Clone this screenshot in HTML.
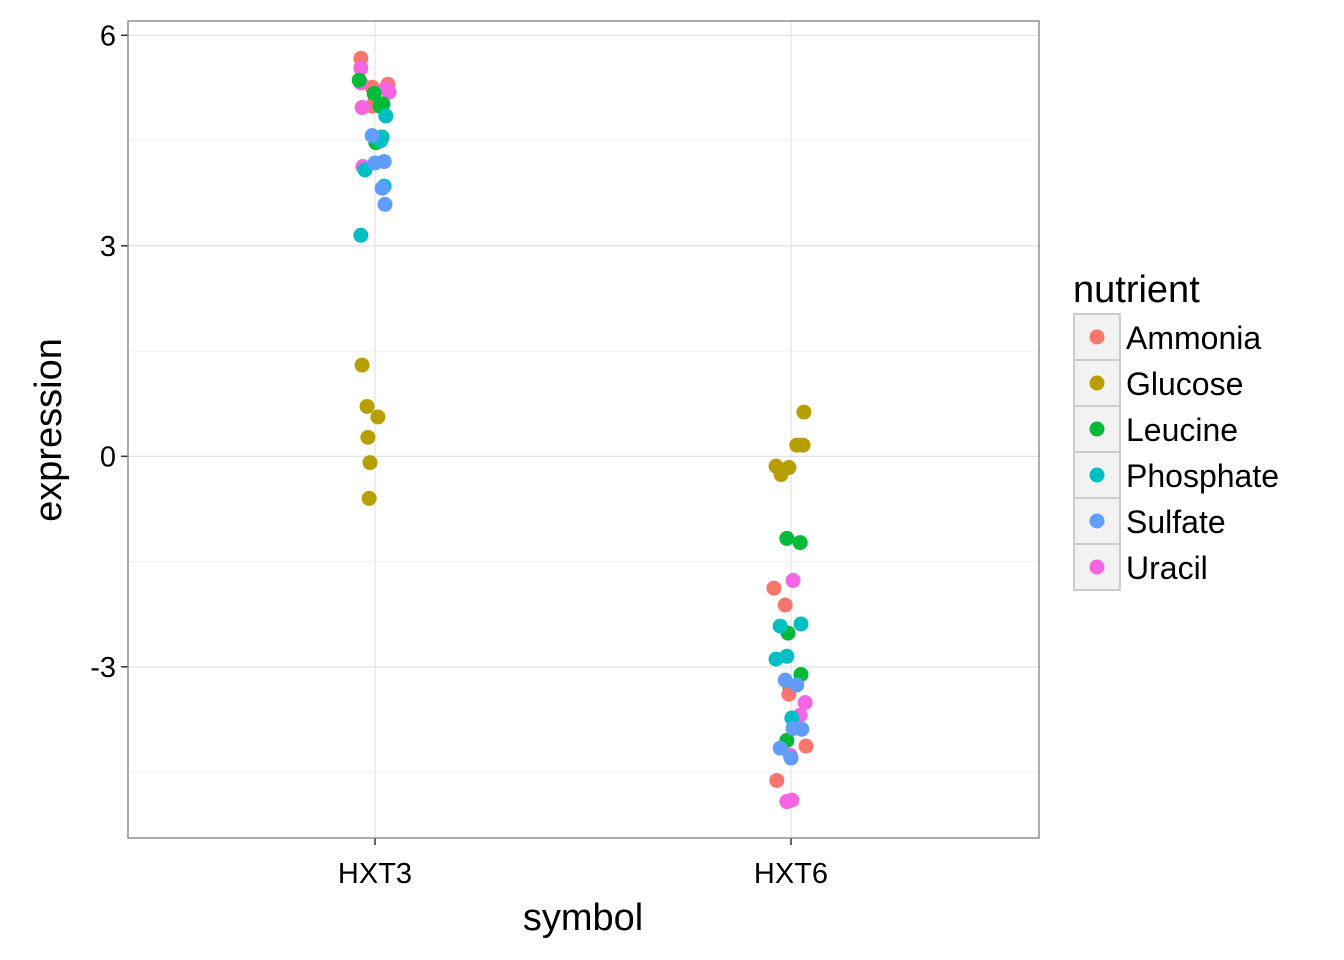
<!DOCTYPE html>
<html><head><meta charset="utf-8"><style>
html,body{margin:0;padding:0;background:#fff;}
svg{display:block;font-family:"Liberation Sans",Arial,sans-serif;}
</style></head><body>
<svg id="chart" width="1344" height="960" viewBox="0 0 1344 960" xmlns="http://www.w3.org/2000/svg"></svg>
<script>
const categories = ["HXT3","HXT6"];
const nutrients = ["Ammonia","Glucose","Leucine","Phosphate","Sulfate","Uracil"];
const colors = ["#F8766D","#B79F00","#00BA38","#00BFC4","#619CFF","#F564E3"];
const yTicks = [-3,0,3,6];
// points: [categoryIndex, jitter, value, nutrientIndex]
const pointCat = [0,0,0,0,0, 0,0,0,0,0,0, 0,0,0,0,0, 0,0,0,0,0,0, 0,0,0,0,0, 0,0,0,0,0,0,
  1,1,1,1,1,1, 1,1,1,1,1,1, 1,1,1,1,1, 1,1,1,1,1,1, 1,1,1,1,1, 1,1,1,1,1,1];
const pointJitter = [-0.034,-0.007,0.031,-0.007,0,
  -0.034,-0.034,0.026,0.034,-0.031,-0.029,
  -0.038,-0.002,0.019,0.002,0.012,
  0.026,0.017,-0.024,0.022,-0.034,0.014,
  -0.007,0.022,0,0.017,0.024,
  -0.031,-0.019,0.007,-0.017,-0.012,-0.014,
  0.031,0.014,0.029,-0.036,-0.005,-0.024,
  -0.010,0.022,-0.007,0.024,-0.002,-0.010,
  -0.041,-0.014,-0.005,0.036,-0.034,
  0.005,0.034,0.022,-0.002,-0.010,0.002,
  -0.026,0.024,-0.036,-0.010,0.002,
  -0.014,0.014,0.005,0.026,-0.026,0];
const pointValue = [5.67,5.26,5.30,4.99,5.07,
  5.53,5.32,5.24,5.19,4.97,4.13,
  5.36,5.17,5.02,4.47,4.99,
  4.85,4.55,4.08,3.85,3.15,4.50,
  4.57,4.20,4.18,3.82,3.59,
  1.30,0.71,0.56,0.27,-0.09,-0.60,
  0.63,0.16,0.16,-0.14,-0.16,-0.26,
  -1.17,-1.23,-2.52,-3.11,-3.31,-4.05,
  -1.88,-2.12,-3.39,-4.13,-4.62,
  -1.77,-3.51,-3.69,-4.26,-4.92,-4.90,
  -2.42,-2.39,-2.89,-2.85,-3.73,
  -3.19,-3.26,-3.88,-3.89,-4.16,-4.30];
const pointNutrient = [0,0,0,0,0, 5,5,5,5,5,5, 2,2,2,2,2, 3,3,3,3,3,3, 4,4,4,4,4, 1,1,1,1,1,1,
  1,1,1,1,1,1, 2,2,2,2,2,2, 0,0,0,0,0, 5,5,5,5,5,5, 3,3,3,3,3, 4,4,4,4,4,4];

const svg = document.getElementById('chart');
const NS = "http://www.w3.org/2000/svg";
function mk(tag, attrs, parent){const e=document.createElementNS(NS,tag);for(const k in attrs)e.setAttribute(k,attrs[k]);(parent||svg).appendChild(e);return e;}
const L=128,R=1039,T=21,B=838;
const yScale = v => 456.3 - v*70.17;
const xScale = c => 375 + c*416;

const panel = mk('rect',{x:L,y:T,width:R-L,height:B-T,fill:'#fff'});


for(let v=-4.5; v<=6; v+=3){
  const g=mk('line',{x1:L,x2:R,y1:yScale(v),y2:yScale(v),stroke:'#f2f2f2','stroke-width':1.2});
  
  
}
yTicks.forEach(v=>{
  const g=mk('line',{x1:L,x2:R,y1:yScale(v),y2:yScale(v),stroke:'#e5e5e5','stroke-width':1.3});
  
  
  const t=mk('line',{x1:L-7,x2:L,y1:yScale(v),y2:yScale(v),stroke:'#333','stroke-width':1.5});
  
  
  const lb=mk('text',{x:L-12,y:yScale(v)+10,'text-anchor':'end','font-size':29,fill:'#000'});
  lb.textContent=v;
  
  
});
categories.forEach((c,i)=>{
  const g=mk('line',{x1:xScale(i),x2:xScale(i),y1:T,y2:B,stroke:'#e5e5e5','stroke-width':1.3});
  
  
  const t=mk('line',{x1:xScale(i),x2:xScale(i),y1:B,y2:B+7,stroke:'#333','stroke-width':1.5});
  
  
  const lb=mk('text',{x:xScale(i),y:B+45,'text-anchor':'middle','font-size':29,fill:'#000'});
  lb.textContent=c;
  
  
});
for(let i=0;i<pointValue.length;i++){
  const p=mk('circle',{cx:xScale(pointCat[i]+pointJitter[i]),cy:yScale(pointValue[i]),r:7.5,fill:colors[pointNutrient[i]]});
  
  
}
const border=mk('rect',{x:L,y:T,width:R-L,height:B-T,fill:'none',stroke:'#7f7f7f','stroke-width':1.3});



const xt=mk('text',{x:583,y:930,'text-anchor':'middle','font-size':38});
xt.textContent='symbol';


const yt=mk('text',{x:0,y:0,'text-anchor':'middle','font-size':38,transform:'translate(61,430) rotate(-90)'});
yt.textContent='expression';



const lg=mk('g',{});


const ltitle=mk('text',{x:1073,y:302,'font-size':38},lg);
ltitle.textContent='nutrient';


nutrients.forEach((n,i)=>{
  const y0=314+i*46;
  const g=mk('g',{},lg);
  
  
  mk('rect',{x:1074,y:y0,width:46,height:46,fill:'#f2f2f2',stroke:'#cccccc','stroke-width':2},g);
  mk('circle',{cx:1097,cy:y0+23,r:7.5,fill:colors[i]},g);
  const t=mk('text',{x:1126,y:y0+35,'font-size':32},g);
  t.textContent=n;
});
</script>
</body></html>
